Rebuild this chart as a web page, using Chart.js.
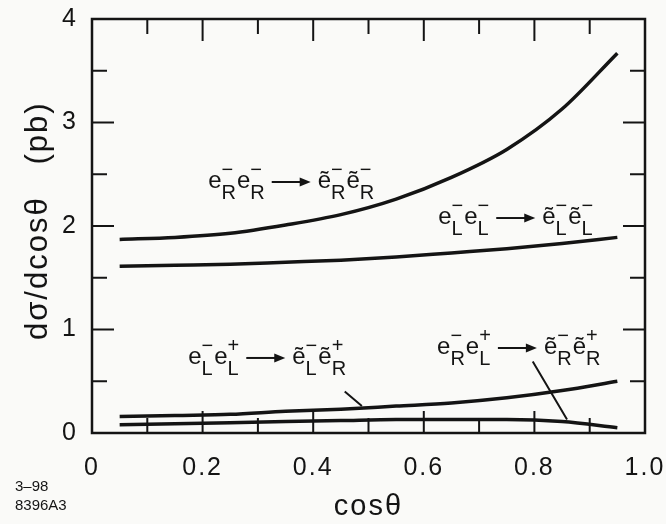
<!DOCTYPE html>
<html>
<head>
<meta charset="utf-8">
<script src="https://cdn.jsdelivr.net/npm/chart.js@4.4.1/dist/chart.umd.min.js"></script>
<style>
  html, body { margin: 0; padding: 0; background: #fafaf8; }
  canvas { display: block; }
</style>
</head>
<body>
<canvas id="grafico" width="666" height="524"></canvas>
<script>
// Datos (dsigma/dcos(theta) en pb)
const cosTheta = [0.05, 0.15, 0.25, 0.35, 0.45, 0.55, 0.65, 0.75, 0.85, 0.95];
const eReR = [1.87, 1.89, 1.93, 2.01, 2.11, 2.26, 2.47, 2.74, 3.13, 3.67];
const eLeL = [1.61, 1.62, 1.63, 1.65, 1.67, 1.70, 1.74, 1.78, 1.83, 1.89];
const eLePlus = [0.16, 0.17, 0.18, 0.21, 0.23, 0.26, 0.29, 0.34, 0.41, 0.50];
const eRePlus = [0.08, 0.09, 0.10, 0.11, 0.12, 0.13, 0.13, 0.13, 0.11, 0.05];

const xTicks = [0, 0.2, 0.4, 0.6, 0.8, 1.0];
const yTicks = [0, 1, 2, 3, 4];
const xMinor = [0.1, 0.2, 0.3, 0.4, 0.5, 0.6, 0.7, 0.8, 0.9];
const yMinor = [0.5, 1, 1.5, 2, 2.5, 3, 3.5];

// Etiquetas de las reacciones (posicion en unidades de los ejes)
const reacciones = [
  { x: 0.210, y: 2.425, izq: [['R', '−'], ['R', '−']], der: [['R', '−'], ['R', '−']] },
  { x: 0.626, y: 2.077, izq: [['L', '−'], ['L', '−']], der: [['L', '−'], ['L', '−']] },
  { x: 0.174, y: 0.725, izq: [['L', '−'], ['L', '+']], der: [['L', '−'], ['R', '+']] },
  { x: 0.624, y: 0.821, izq: [['R', '−'], ['L', '+']], der: [['R', '−'], ['R', '+']] }
];
const flechas = [
  { desde: [0.457, 0.40], hasta: [0.488, 0.26] },
  { desde: [0.797, 0.69], hasta: [0.859, 0.13] }
];

const TINTA = '#141414';
const FUENTE = "'Liberation Sans', Arial, sans-serif";

function curva(valores) {
  return {
    data: cosTheta.map((x, i) => ({ x: x, y: valores[i] })),
    borderColor: TINTA,
    borderWidth: 3.5,
    pointRadius: 0,
    cubicInterpolationMode: 'monotone',
    fill: false
  };
}

// Dibuja una particula: e (o e con tilde) con subindice y superindice
function particula(ctx, x, cy, tilde, sub, sup) {
  const base = cy + 6;
  ctx.font = '24px ' + FUENTE;
  ctx.textBaseline = 'alphabetic';
  ctx.textAlign = 'left';
  const e = tilde ? 'ẽ' : 'e';
  ctx.fillText(e, x, base);
  x += ctx.measureText(e).width;
  ctx.font = '20px ' + FUENTE;
  ctx.fillText(sub, x, base + 11);
  ctx.fillText(sup, x, cy - 6);
  return x + Math.max(ctx.measureText(sub).width, ctx.measureText(sup).width) + 1;
}

const pluginMarco = {
  id: 'marco',
  beforeDraw(chart) {
    const ctx = chart.ctx;
    ctx.fillStyle = '#fafaf8';
    ctx.fillRect(0, 0, chart.width, chart.height);
    // el texto del original es algo mas ancho
    ctx.letterSpacing = '2px';
  },
  beforeDatasetsDraw(chart) {
    chart.ctx.letterSpacing = '0px';
  },
  afterDraw(chart) {
    const ctx = chart.ctx;
    const a = chart.chartArea;
    const sx = chart.scales.x;
    const sy = chart.scales.y;
    ctx.save();
    ctx.strokeStyle = TINTA;
    ctx.fillStyle = TINTA;

    // marco
    ctx.lineWidth = 2.5;
    ctx.strokeRect(a.left, a.top, a.right - a.left, a.bottom - a.top);

    // marcas hacia dentro
    ctx.lineWidth = 2;
    ctx.beginPath();
    xMinor.forEach(v => {
      const px = sx.getPixelForValue(v);
      const l = Math.abs(v * 5 - Math.round(v * 5)) < 1e-6 ? 22 : 15;
      ctx.moveTo(px, a.bottom); ctx.lineTo(px, a.bottom - l);
      ctx.moveTo(px, a.top); ctx.lineTo(px, a.top + l);
    });
    yMinor.forEach(v => {
      const py = sy.getPixelForValue(v);
      const l = Number.isInteger(v) ? 22 : 15;
      ctx.moveTo(a.left, py); ctx.lineTo(a.left + l, py);
      ctx.moveTo(a.right, py); ctx.lineTo(a.right - l, py);
    });
    ctx.stroke();

    // reacciones
    reacciones.forEach(r => {
      let x = sx.getPixelForValue(r.x);
      const cy = sy.getPixelForValue(r.y);
      r.izq.forEach(p => { x = particula(ctx, x, cy, false, p[0], p[1]); });
      x += 6;
      ctx.lineWidth = 2;
      ctx.beginPath();
      ctx.moveTo(x, cy); ctx.lineTo(x + 30, cy);
      ctx.stroke();
      ctx.beginPath();
      ctx.moveTo(x + 39, cy); ctx.lineTo(x + 28, cy - 4.5); ctx.lineTo(x + 28, cy + 4.5);
      ctx.closePath();
      ctx.fill();
      x += 46;
      r.der.forEach(p => { x = particula(ctx, x, cy, true, p[0], p[1]); });
    });

    // lineas indicadoras
    ctx.lineWidth = 2;
    ctx.beginPath();
    flechas.forEach(f => {
      ctx.moveTo(sx.getPixelForValue(f.desde[0]), sy.getPixelForValue(f.desde[1]));
      ctx.lineTo(sx.getPixelForValue(f.hasta[0]), sy.getPixelForValue(f.hasta[1]));
    });
    ctx.stroke();

    // codigo de la figura
    ctx.font = '15px ' + FUENTE;
    ctx.textAlign = 'left';
    ctx.textBaseline = 'middle';
    ctx.fillText('3–98', 15, 487);
    ctx.fillText('8396A3', 15, 506);
    ctx.restore();
  }
};

new Chart(document.getElementById('grafico').getContext('2d'), {
  type: 'line',
  data: {
    datasets: [curva(eReR), curva(eLeL), curva(eLePlus), curva(eRePlus)]
  },
  options: {
    responsive: false,
    animation: false,
    layout: { padding: { left: 0, right: 21, top: 19, bottom: 0 } },
    plugins: { legend: { display: false }, tooltip: { enabled: false } },
    scales: {
      x: {
        type: 'linear',
        min: 0,
        max: 1,
        afterBuildTicks: s => { s.ticks = xTicks.map(v => ({ value: v })); },
        afterFit: s => { s.height = 91; s.paddingLeft = 0; s.paddingRight = 0; },
        grid: { display: false, drawTicks: false },
        border: { display: false },
        ticks: {
          padding: 20,
          color: TINTA,
          font: { size: 25, family: FUENTE },
          maxRotation: 0,
          callback: v => (v === 0 ? '0' : v.toFixed(1))
        },
        title: {
          display: true,
          text: 'cosθ',
          color: TINTA,
          font: { size: 29, family: FUENTE },
          padding: { top: 0, bottom: 0 }
        }
      },
      y: {
        type: 'linear',
        min: 0,
        max: 4,
        afterBuildTicks: s => { s.ticks = yTicks.map(v => ({ value: v })); },
        afterFit: s => { s.width = 92; s.paddingTop = 0; s.paddingBottom = 0; },
        grid: { display: false, drawTicks: false },
        border: { display: false },
        ticks: {
          padding: 14,
          color: TINTA,
          font: { size: 25, family: FUENTE },
          callback: v => String(v)
        },
        title: {
          display: true,
          text: ' dσ/dcosθ   (pb)',
          color: TINTA,
          font: { size: 31, family: FUENTE },
          padding: { top: 20, bottom: 0 }
        }
      }
    }
  },
  plugins: [pluginMarco]
});
</script>
</body>
</html>
